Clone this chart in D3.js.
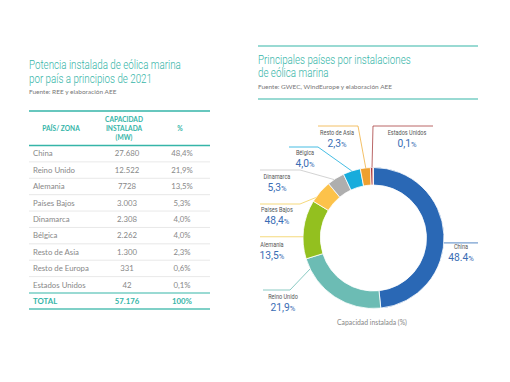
<!DOCTYPE html>
<html><head><meta charset="utf-8">
<script src="https://cdn.jsdelivr.net/npm/d3@7"></script>
<style>
html,body{margin:0;padding:0;background:#fff;}
svg{display:block;}
.cond{font-family:"Roboto","Liberation Sans",sans-serif;}
.body{font-family:"Lato","Open Sans",sans-serif;}
</style></head>
<body>
<script>
// ---------- data ----------
const countries = ["China","Reino Unido","Alemania","Países Bajos","Dinamarca","Bélgica","Resto de Asia","Resto de Europa","Estados Unidos"];
const capacityMW = [27680,12522,7728,3003,2308,2262,1300,331,42];
const capacityLabels = ["27.680","12.522","7728","3.003","2.308","2.262","1.300","331","42"];
const sharePct = [48.4,21.9,13.5,5.3,4.0,4.0,2.3,0.6,0.1];
const shareLabels = ["48,4%","21,9%","13,5%","5,3%","4,0%","4,0%","2,3%","0,6%","0,1%"];
const totalLabel = ["TOTAL","57.176","100%"];
const donutNames = ["China","Reino Unido","Alemania","Países Bajos","Dinamarca","Bélgica","Resto de Asia","","Estados Unidos"];
const donutValueLabels = ["48.4","21,9","13,5","48,4","5,3","4,0","2,3","","0,1"];

// ---------- styles ----------
const teal = "#35b5a8";
const sliceColors = ["#2a68b5","#6cbcb4","#93c01f","#fcc24a","#aeaeae","#17acdc","#eea030","#b23a3a","#8e2222"];
const lineColors  = ["#2a68b5","#6cbcb4","#f2cf5a","#f2cf5a","#c8c8c8","#17acdc","#f0b040","#b23a3a","#a84040"];

const W=510,H=382;
const svg=d3.select("body").append("svg").attr("width",W).attr("height",H);

// condensed text helper: place text and squeeze it horizontally
function condText(parent,x,y,str,size,fill,sx,anchor,weight){
  const g=parent.append("g").attr("transform",`translate(${x},${y}) scale(${sx},1)`);
  return g.append("text").attr("class","cond").attr("font-size",size).attr("fill",fill)
    .attr("font-weight",weight||400).attr("text-anchor",anchor||"start").text(str);
}

// ---------- left: title + table ----------
const L=svg.append("g");
condText(L,29,68.5,"Potencia instalada de eólica marina",12.4,teal,0.79,"start",300);
condText(L,29,83,"por país a principios de 2021",12.4,teal,0.79,"start",300);
L.append("text").attr("class","body").attr("x",29).attr("y",94).attr("fill","#777")
  .attr("font-size",6.5).text("Fuente: REE y elaboración AEE");

const tx0=29, tx1=210;
const colX=[33,127,182];
L.append("line").attr("x1",tx0).attr("x2",tx1).attr("y1",111).attr("y2",111).attr("stroke",teal).attr("stroke-width",1.6);
const hdr=L.append("g").attr("class","body").attr("fill",teal).attr("font-weight","bold").attr("font-size",6.6).attr("text-anchor","middle");
hdr.append("text").attr("x",61).attr("y",131).text("PAÍS/ ZONA");
hdr.append("text").attr("x",124).attr("y",122).text("CAPACIDAD");
hdr.append("text").attr("x",124).attr("y",131).text("INSTALADA");
hdr.append("text").attr("x",124).attr("y",140).text("(MW)");
hdr.append("text").attr("x",180).attr("y",131).text("%");
L.append("line").attr("x1",tx0).attr("x2",tx1).attr("y1",145.5).attr("y2",145.5).attr("stroke",teal).attr("stroke-width",1.6);

const yRow=d3.scaleBand().domain(countries).range([145.5,293]);
const rows=L.selectAll("g.row").data(countries).join("g").attr("class","row body")
  .attr("transform",d=>`translate(0,${yRow(d)})`);
rows.append("text").attr("x",colX[0]).attr("y",yRow.bandwidth()/2+2.8).attr("fill","#888").attr("font-size",7.8).text(d=>d);
rows.append("text").attr("x",colX[1]).attr("y",yRow.bandwidth()/2+2.8).attr("text-anchor","middle").attr("fill","#888").attr("font-size",7.8).text((d,i)=>capacityLabels[i]);
rows.append("text").attr("x",colX[2]).attr("y",yRow.bandwidth()/2+2.8).attr("text-anchor","middle").attr("fill","#888").attr("font-size",7.8).text((d,i)=>shareLabels[i]);
rows.filter((d,i)=>i<countries.length-1).append("line").attr("x1",tx0).attr("x2",tx1)
  .attr("y1",yRow.bandwidth()).attr("y2",yRow.bandwidth()).attr("stroke","#e2e2e2").attr("stroke-width",0.8);
L.append("line").attr("x1",tx0).attr("x2",tx1).attr("y1",293).attr("y2",293).attr("stroke",teal).attr("stroke-width",1.2);
const tot=L.append("g").attr("class","body").attr("fill",teal).attr("font-weight","bold").attr("font-size",7.8);
tot.append("text").attr("x",colX[0]).attr("y",304).text(totalLabel[0]);
tot.append("text").attr("x",colX[1]).attr("y",304).attr("text-anchor","middle").text(totalLabel[1]);
tot.append("text").attr("x",colX[2]).attr("y",304).attr("text-anchor","middle").text(totalLabel[2]);
L.append("line").attr("x1",tx0).attr("x2",tx1).attr("y1",309).attr("y2",309).attr("stroke","#7fd0c7").attr("stroke-width",2);

// ---------- right: title + donut ----------
const R=svg.append("g");
R.append("line").attr("x1",258).attr("x2",478).attr("y1",46).attr("y2",46).attr("stroke",teal).attr("stroke-width",1.2);
condText(R,258,63.5,"Principales países por instalaciones",12.4,teal,0.79,"start",300);
condText(R,258,77,"de eólica marina",12.4,teal,0.79,"start",300);
R.append("text").attr("class","body").attr("x",258).attr("y",89).attr("fill","#777").attr("font-size",6.5).text("Fuente: GWEC, WindEurope y elaboración AEE");
R.append("line").attr("x1",258).attr("x2",478).attr("y1",99).attr("y2",99).attr("stroke",teal).attr("stroke-width",1.2);

const cx=373.5, cy=238, rOut=70.5, rIn=53;
const pie=d3.pie().sort(null).value(d=>d).startAngle(0).endAngle(2*Math.PI);
const arcs=pie(sharePct);
const arc=d3.arc().innerRadius(rIn).outerRadius(rOut);
const D=R.append("g").attr("transform",`translate(${cx},${cy})`);
D.selectAll("path").data(arcs).join("path").attr("d",arc)
  .attr("fill",(d,i)=>sliceColors[i]).attr("stroke","#fff").attr("stroke-width",0.8);

// label layout: angle (deg) on the ring where the leader starts, elbow point, end point, text centre
const labelLayout=[
  {a:94,  elbow:null,      end:[478,243], t:[461,249]},
  {a:244, elbow:[290,290], end:[263,290], t:[283,299]},
  {a:271, elbow:null,      end:[260,239], t:[272,247]},
  {a:305, elbow:[300,204], end:[260,204], t:[277,212]},
  {a:326, elbow:[300,170], end:[260,170], t:[277,179]},
  {a:342, elbow:[318,147], end:[289,147], t:[305,155]},
  {a:353.7,elbow:[358,126],end:[318,126], t:[337,135]},
  null,
  {a:358.8,elbow:[373,126],end:[433,126], t:[407,135]}
];
const ringPt=a=>{const r=a*Math.PI/180;return [cx+rOut*Math.sin(r), cy-rOut*Math.cos(r)];};
labelLayout.forEach((lay,i)=>{
  if(!lay) return;
  const s=ringPt(lay.a);
  const pts=lay.elbow?[s,lay.elbow,lay.end]:[s,[lay.end[0],s[1]]];
  R.append("path").attr("d",d3.line()(pts)).attr("fill","none").attr("stroke",lineColors[i]).attr("stroke-width",0.8);
  condText(R,lay.t[0],lay.t[1],donutNames[i],6.8,"#555",0.82,"middle");
  const v=condText(R,lay.t[0],lay.t[1]+11.5,"",10.8,"#3a6db4",0.95,"middle");
  v.append("tspan").text(donutValueLabels[i]);
  v.append("tspan").attr("font-size",8).text("%");
});
R.append("text").attr("class","body").attr("x",372).attr("y",325).attr("text-anchor","middle")
  .attr("fill","#888").attr("font-size",6.8).text("Capacidad instalada (%)");
</script>
</body></html>
